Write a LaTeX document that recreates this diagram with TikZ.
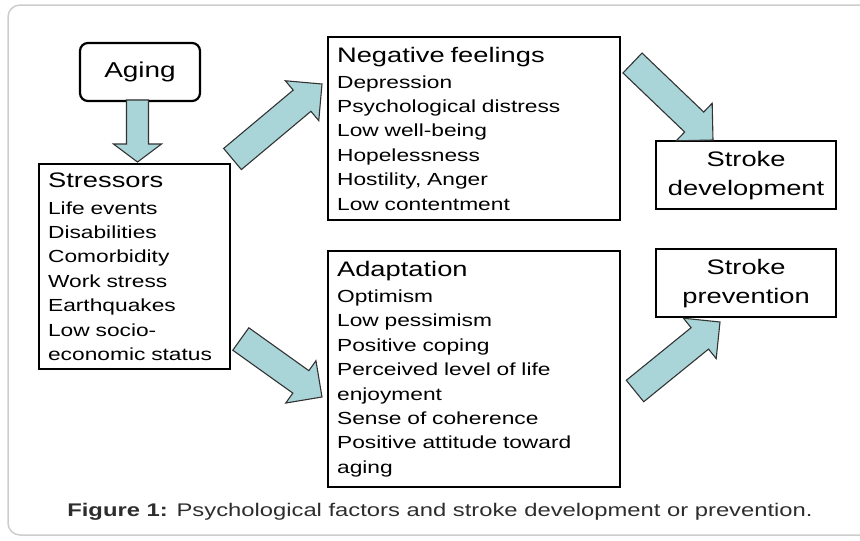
\documentclass[tikz,border=0pt]{standalone}
\usepackage{fontspec}
\setmainfont{Liberation Sans}[FakeStretch=1.3]
\usetikzlibrary{calc}

\definecolor{arrowfill}{RGB}{169,213,217}
\definecolor{framegray}{RGB}{205,205,205}
\definecolor{captext}{RGB}{45,45,45}

\newcommand{\itemfont}{\fontsize{17.5}{24.4}\selectfont}
\newcommand{\titlefont}{\fontsize{21}{24.4}\selectfont}

% block arrow: tail, tip, half shaft, half head, head length
\newcommand{\fatarrow}[5]{%
  \draw[fatarrow] ($(#1)!#3!90:(#2)$) -- ($(#2)!#5!(#1)!#3!90:(#2)$)
    -- ($(#2)!#5!(#1)!#4!90:(#2)$) -- (#2)
    -- ($(#2)!#5!(#1)!#4!-90:(#2)$) -- ($(#2)!#5!(#1)!#3!-90:(#2)$)
    -- ($(#1)!#3!-90:(#2)$) -- cycle;}

\begin{document}
\begin{tikzpicture}[x=1pt, y=-1pt,
    box/.style={draw, line width=2.2pt, anchor=north west, inner xsep=9pt,
      align=left, font=\itemfont},
    endbox/.style={draw, line width=2.2pt, anchor=north west, align=center,
      font=\fontsize{21}{29}\selectfont, minimum width=180pt, minimum height=68pt},
    fatarrow/.style={draw=black!80, line width=1.1pt, fill=arrowfill, line join=miter}]
    \useasboundingbox (0,0) rectangle (860,541);
    \clip (0,0) rectangle (860,541);
    \draw[framegray, line width=1.5pt, rounded corners=12pt] (8,5) rectangle (875,535);

    \node[draw, line width=2.2pt, rounded corners=8pt, minimum width=120pt, minimum height=58pt,
      font=\fontsize{21.5}{24}\selectfont] (Aging) at (140,72) {Aging};

    \node[box, minimum width=191pt, minimum height=205pt, text width=173pt] (Stress) at (38,163)
      {{\titlefont Stressors}\\[2.5pt]Life events\\Disabilities\\Comorbidity\\Work stress\\
       Earthquakes\\Low socio-\\economic status};

    \node[box, minimum width=292pt, minimum height=183pt, text width=274pt] (NegFeel) at (327,36)
      {{\titlefont Negative feelings}\\[1.5pt]Depression\\Psychological distress\\Low well-being\\
       Hopelessness\\Hostility, Anger\\Low contentment};

    \node[box, minimum width=292pt, minimum height=236pt, text width=274pt] (Adapt) at (327,250)
      {{\titlefont Adaptation}\\[1.5pt]Optimism\\Low pessimism\\Positive coping\\
       Perceived level of life\\enjoyment\\Sense of coherence\\Positive attitude toward\\aging};

    \node[endbox] (StrokeDev) at (655,140) {Stroke\\development};
    \node[endbox] (StrokePrev) at (655,248) {Stroke\\prevention};

    \coordinate (AgeTail) at (137.5,100);
    \coordinate (AgeTip) at (137.5,162);
    \coordinate (NegTail) at (232.5,159);
    \coordinate (NegTip) at (322,84);
    \coordinate (DevTail) at (632.5,63);
    \coordinate (DevTip) at (713,140);
    \coordinate (AdTail) at (240.8,339);
    \coordinate (AdTip) at (322,397);
    \coordinate (PrevTail) at (635,391);
    \coordinate (PrevTip) at (720,322);

    \fatarrow{AgeTail}{AgeTip}{11pt}{24pt}{18pt}
    \fatarrow{NegTail}{NegTip}{13.8pt}{26pt}{26pt}
    \fatarrow{DevTail}{DevTip}{13.8pt}{26pt}{26pt}
    \fatarrow{AdTail}{AdTip}{13.8pt}{26pt}{26pt}
    \fatarrow{PrevTail}{PrevTip}{13.8pt}{26pt}{26pt}

    \node[font=\fontsize{18.3}{20}\selectfont, text=captext] (Caption) at (440,512)
      {\textbf{Figure 1:} Psychological factors and stroke development or prevention.};
\end{tikzpicture}
\end{document}
